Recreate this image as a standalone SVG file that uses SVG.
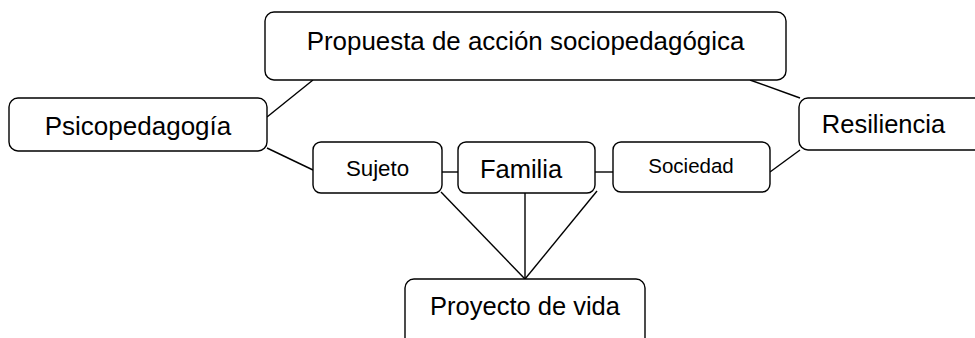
<svg xmlns="http://www.w3.org/2000/svg" width="975" height="338" viewBox="0 0 975 338">
<style>
.box{fill:#fff;stroke:#000;stroke-width:1.4}
.t{font-family:"Liberation Sans",Arial,sans-serif;fill:#000;text-anchor:middle}
.c line{stroke:#000;stroke-width:1.4}
</style>
<rect width="975" height="338" fill="#fff"/>
<g class="c">
<line x1="313" y1="80" x2="267" y2="117"/>
<line x1="267" y1="148" x2="313" y2="170"/>
<line x1="750" y1="80" x2="800" y2="98"/>
<line x1="800" y1="150" x2="770" y2="172"/>
<line x1="442" y1="172" x2="458" y2="172"/>
<line x1="595" y1="172" x2="613" y2="172"/>
<line x1="441" y1="192" x2="525" y2="279"/>
<line x1="525" y1="193" x2="525" y2="279"/>
<line x1="597" y1="191" x2="525" y2="279"/>
</g>
<g id="propuesta">
<rect class="box" x="265" y="12" width="521" height="68" rx="9"/>
<text class="t" x="525.5" y="50" font-size="25.9">Propuesta de acción sociopedagógica</text>
</g>
<g id="psicopedagogia">
<rect class="box" x="9" y="98" width="258" height="53" rx="9"/>
<text class="t" x="138" y="135" font-size="26">Psicopedagogía</text>
</g>
<g id="resiliencia">
<rect class="box" x="799" y="98" width="190" height="52" rx="9"/>
<text class="t" x="883.5" y="133" font-size="25.5">Resiliencia</text>
</g>
<g id="sujeto">
<rect class="box" x="313" y="142" width="129" height="51" rx="8"/>
<text class="t" x="377.5" y="175.5" font-size="22.3">Sujeto</text>
</g>
<g id="familia">
<rect class="box" x="458" y="142" width="137" height="51" rx="8"/>
<text class="t" x="521" y="177.5" font-size="25.5">Familia</text>
</g>
<g id="sociedad">
<rect class="box" x="613" y="142" width="157" height="50" rx="8"/>
<text class="t" x="691" y="173" font-size="20.5">Sociedad</text>
</g>
<g id="proyecto">
<rect class="box" x="405" y="279" width="240" height="70" rx="9"/>
<text class="t" x="525" y="315" font-size="25.5">Proyecto de vida</text>
</g>
</svg>
